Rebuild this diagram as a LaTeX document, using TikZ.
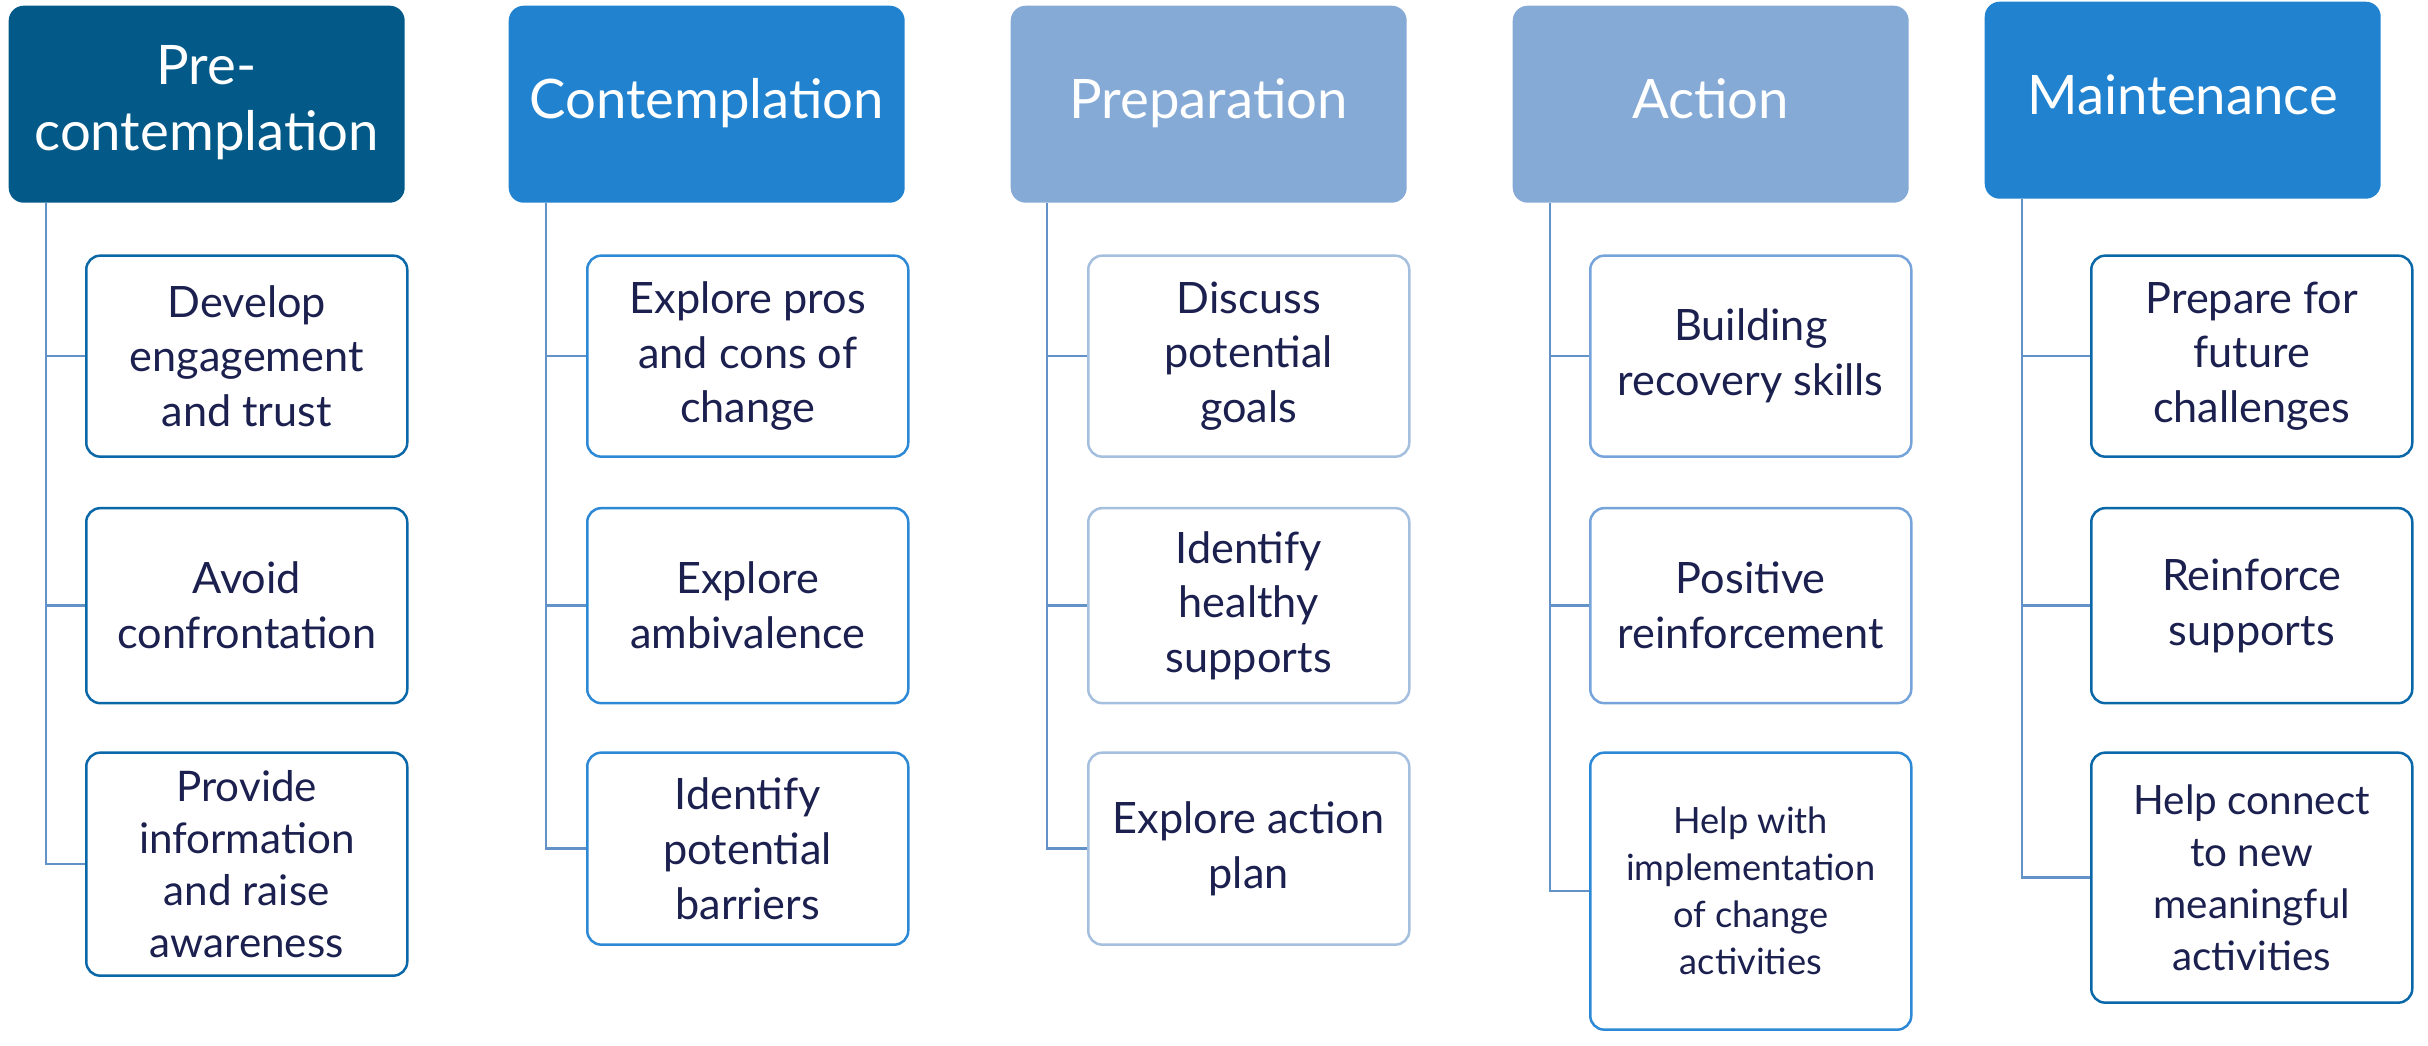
\documentclass[tikz,border=0pt]{standalone}
\usepackage{fontspec}
\setmainfont{Lato}
\usepackage{tikz}
\usetikzlibrary{positioning}
\definecolor{stagedark}{RGB}{3,90,137}
\definecolor{stagemid}{RGB}{33,131,208}
\definecolor{stagelight}{RGB}{134,170,214}
\definecolor{tasktext}{RGB}{27,32,79}
\definecolor{linkline}{RGB}{98,146,199}
\definecolor{edgedark}{RGB}{11,104,168}
\definecolor{edgemid}{RGB}{45,137,214}
\definecolor{edgelight}{RGB}{165,191,223}
\definecolor{edgeaction}{RGB}{118,164,218}

\begin{document}
\begin{tikzpicture}[
    stage/.style = {anchor=north west, rounded corners=1.5mm, minimum width=39.6mm,
      minimum height=19.7mm, inner sep=0pt, align=center, text=white, text depth=1.2mm,
      font=\fontsize{15.5}{18.8}\selectfont},
    task/.style = {draw, line width=0.25mm, rounded corners=1.4mm, fill=white,
      minimum width=32.1mm, inner sep=0pt, align=center, text=tasktext,
      font=\fontsize{12.3}{15.6}\selectfont},
    link/.style = {draw=linkline, line width=0.25mm}
  ]
  \useasboundingbox (0,0) rectangle (242.8mm,-104.5mm);

  \node[stage, fill=stagedark] (pre) at (0.8mm,-0.5mm) {Pre-\\contemplation};
  \node[stage, fill=stagemid] (con) at (50.8mm,-0.5mm) {Contemplation};
  \node[stage, fill=stagelight] (prep) at (101mm,-0.5mm) {Preparation};
  \node[stage, fill=stagelight] (act) at (151.2mm,-0.5mm) {Action};
  \node[stage, fill=stagemid] (main) at (198.4mm,-0.1mm) {Maintenance};

  \node[task, draw=edgedark, minimum height=20.1mm, below right=5.1mm and 7.7mm of pre.south west] (pre1) {Develop\\engagement\\and trust};
  \node[task, draw=edgedark, minimum height=19.5mm, below=4.9mm of pre1] (pre2) {Avoid\\confrontation};
  \node[task, draw=edgedark, minimum height=22.3mm, below=4.7mm of pre2,
    font=\fontsize{12}{14.8}\selectfont] (pre3) {Provide\\information\\and raise\\awareness};

  \node[task, draw=edgemid, minimum height=20.1mm, below right=5.1mm and 7.8mm of con.south west] (con1) {Explore pros\\and cons of\\change};
  \node[task, draw=edgemid, minimum height=19.5mm, below=4.9mm of con1] (con2) {Explore\\ambivalence};
  \node[task, draw=edgemid, minimum height=19.2mm, below=4.7mm of con2] (con3) {Identify\\potential\\barriers};

  \node[task, draw=edgelight, minimum height=20.1mm, below right=5.1mm and 7.7mm of prep.south west] (prep1) {Discuss\\potential\\goals};
  \node[task, draw=edgelight, minimum height=19.5mm, below=4.9mm of prep1] (prep2) {Identify\\healthy\\supports};
  \node[task, draw=edgelight, minimum height=19.2mm, below=4.7mm of prep2] (prep3) {Explore action\\plan};

  \node[task, draw=edgeaction, minimum height=20.1mm, below right=5.1mm and 7.7mm of act.south west] (act1) {Building\\recovery skills};
  \node[task, draw=edgeaction, minimum height=19.5mm, below=4.9mm of act1] (act2) {Positive\\reinforcement};
  \node[task, draw=edgemid, minimum height=27.7mm, below=4.7mm of act2,
    font=\fontsize{10.3}{13.4}\selectfont] (act3) {Help with\\implementation\\of change\\activities};

  \node[task, draw=edgedark, minimum height=20.1mm, below right=5.5mm and 10.6mm of main.south west] (main1) {Prepare for\\future\\challenges};
  \node[task, draw=edgedark, minimum height=19.5mm, below=4.9mm of main1] (main2) {Reinforce\\supports};
  \node[task, draw=edgedark, minimum height=25mm, below=4.7mm of main2,
    font=\fontsize{11.5}{14.8}\selectfont] (main3) {Help connect\\to new\\meaningful\\activities};

  \coordinate[right=3.8mm of pre.south west] (prelink);
  \coordinate[right=3.8mm of con.south west] (conlink);
  \coordinate[right=3.7mm of prep.south west] (preplink);
  \coordinate[right=3.8mm of act.south west] (actlink);
  \coordinate[right=3.8mm of main.south west] (mainlink);

  \draw[link] (prelink) |- (pre1.west) (prelink) |- (pre2.west) (prelink) |- (pre3.west);
  \draw[link] (conlink) |- (con1.west) (conlink) |- (con2.west) (conlink) |- (con3.west);
  \draw[link] (preplink) |- (prep1.west) (preplink) |- (prep2.west) (preplink) |- (prep3.west);
  \draw[link] (actlink) |- (act1.west) (actlink) |- (act2.west) (actlink) |- (act3.west);
  \draw[link] (mainlink) |- (main1.west) (mainlink) |- (main2.west) (mainlink) |- (main3.west);
\end{tikzpicture}
\end{document}
